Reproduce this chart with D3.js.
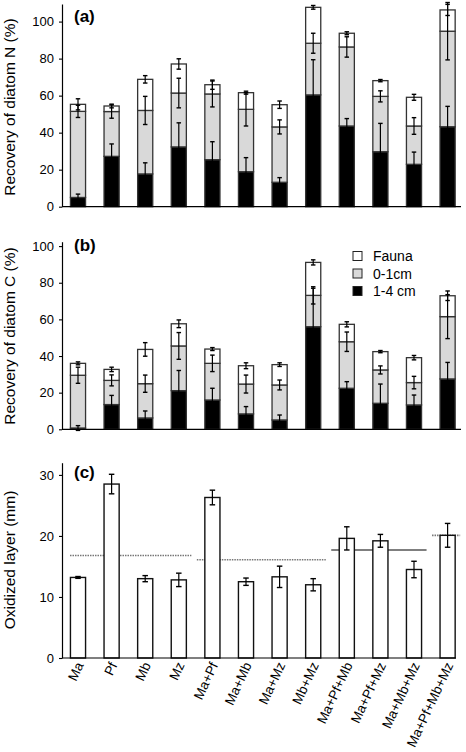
<!DOCTYPE html>
<html>
<head>
<meta charset="utf-8">
<script src="https://cdn.jsdelivr.net/npm/d3@7"></script>
<style>
  html, body { margin: 0; padding: 0; background: #fff; }
  svg { display: block; font-family: "Liberation Sans", Arial, Helvetica, sans-serif; }
</style>
</head>
<body>
<svg id="chart" width="466" height="752"></svg>
<script>
// ---------- DATA ----------
const categories = ["Ma","Pf","Mb","Mz","Ma+Pf","Ma+Mb","Ma+Mz","Mb+Mz","Ma+Pf+Mb","Ma+Pf+Mz","Ma+Mb+Mz","Ma+Pf+Mb+Mz"];
const seriesNames = ["1-4 cm","0-1cm","Fauna"];
const legendOrder = ["Fauna","0-1cm","1-4 cm"];

// Panel (a): recovery of diatom N (%), segment values (stacked bottom to top)
const nDeep   = [5.0, 27.2, 17.7, 32.3, 25.4, 18.9, 13.2, 60.4, 43.6, 29.7, 22.9, 43.2];
const nSurf   = [46.5, 24.2, 34.3, 29.1, 35.5, 33.7, 29.9, 27.9, 42.7, 29.9, 20.7, 51.6];
const nFauna  = [3.8, 3.0, 16.8, 15.7, 5.0, 9.0, 12.0, 19.4, 7.4, 8.5, 15.5, 11.5];
const nDeepErr  = [1.8, 6.7, 6.0, 13.0, 9.7, 7.6, 2.5, 19.0, 4.0, 15.3, 6.6, 11.0];
const nSurfErr  = [3.3, 3.6, 7.6, 8.0, 7.0, 9.0, 3.8, 5.4, 5.5, 3.0, 4.5, 15.5];
const nFaunaErr = [3.0, 1.0, 2.0, 2.8, 2.5, 0.8, 2.0, 1.0, 0.8, 0.6, 1.6, 3.0];

// Panel (b): recovery of diatom C (%)
const cDeep   = [0.7, 13.5, 6.2, 21.1, 16.0, 8.4, 5.1, 56.0, 22.4, 14.2, 13.3, 27.5];
const cSurf   = [28.8, 13.2, 18.7, 24.4, 20.0, 16.3, 19.1, 17.1, 25.4, 18.2, 12.2, 34.0];
const cFauna  = [6.5, 6.0, 18.7, 12.1, 7.8, 10.0, 11.1, 18.0, 9.5, 10.0, 13.6, 11.4];
const cDeepErr  = [1.3, 5.0, 3.8, 11.0, 6.4, 4.0, 2.7, 21.0, 3.6, 10.5, 5.4, 9.0];
const cSurfErr  = [4.4, 3.0, 4.7, 7.3, 4.5, 4.9, 2.7, 4.7, 5.3, 2.2, 3.4, 12.0];
const cFaunaErr = [0.8, 1.2, 3.7, 2.1, 0.8, 1.6, 1.0, 1.4, 1.4, 0.6, 1.2, 2.6];

// Panel (c): oxidized layer depth (mm)
const oxValues = [13.2, 28.5, 13.0, 12.8, 26.3, 12.5, 13.3, 12.0, 19.6, 19.2, 14.5, 20.1];
const oxErr    = [0.15, 1.6, 0.5, 1.1, 1.2, 0.6, 1.75, 1.0, 1.9, 1.05, 1.35, 1.95];

// Expected (reference) lines in panel (c): first/last category index, value, style
const refFrom  = [0, 4, 8, 11];
const refTo    = [3, 7, 10, 11];
const refValue = [16.8, 16.1, 17.7, 20.1];
const refStyle = ["dotted", "dotted", "solid", "dotted"];

const ticksA = [0, 20, 40, 60, 80, 100];
const ticksB = [0, 20, 40, 60, 80, 100];
const ticksC = [0, 10, 20, 30];

// ---------- STYLE ----------
const colors = { "1-4 cm": "#000000", "0-1cm": "#d9d9d9", "Fauna": "#ffffff" };
const svg = d3.select("#chart");
const axisX0 = 62;

const x = d3.scaleBand()
  .domain(categories)
  .range([61.2, 464.4])
  .paddingInner(0.55)
  .paddingOuter(0.275);

function drawYAxis(y, ticks, title, titleY) {
  const g = svg.append("g")
    .attr("transform", `translate(${axisX0},0)`)
    .call(d3.axisLeft(y).tickValues(ticks).tickSize(3).tickSizeOuter(0).tickPadding(5));
  g.select(".domain").attr("stroke", "#000").attr("stroke-width", 1.2);
  g.selectAll(".tick line").attr("stroke", "#000").attr("stroke-width", 1.1);
  g.selectAll(".tick text").attr("font-size", 13).attr("fill", "#000")
    .attr("font-family", "'Liberation Sans', Arial, sans-serif");
  svg.append("text")
    .attr("transform", `translate(15,${titleY}) rotate(-90)`)
    .attr("text-anchor", "middle")
    .attr("font-size", 15.5)
    .text(title);
}

function drawBaseline(y, x1) {
  svg.append("line")
    .attr("x1", axisX0).attr("x2", x1)
    .attr("y1", y(0)).attr("y2", y(0))
    .attr("stroke", "#000").attr("stroke-width", 1.2);
}

function errorBar(g, cx, y, center, err, capW) {
  const top = y(center + err), bot = y(center - err);
  g.append("line").attr("x1", cx).attr("x2", cx).attr("y1", top).attr("y2", bot)
    .attr("stroke", "#000").attr("stroke-width", 1.2);
  [top, bot].forEach(v => g.append("line")
    .attr("x1", cx - capW / 2).attr("x2", cx + capW / 2)
    .attr("y1", v).attr("y2", v)
    .attr("stroke", "#000").attr("stroke-width", 1.4));
}

function drawStacked(deep, surf, fauna, eDeep, eSurf, eFauna, y) {
  const rows = categories.map((c, i) => ({
    cat: c, "1-4 cm": deep[i], "0-1cm": surf[i], "Fauna": fauna[i]
  }));
  const errs = { "1-4 cm": eDeep, "0-1cm": eSurf, "Fauna": eFauna };
  const stacked = d3.stack().keys(seriesNames)(rows);
  const g = svg.append("g");
  stacked.forEach(layer => {
    g.selectAll(null).data(layer).enter().append("rect")
      .attr("x", d => x(d.data.cat))
      .attr("width", x.bandwidth())
      .attr("y", d => y(d[1]))
      .attr("height", d => y(d[0]) - y(d[1]))
      .attr("fill", colors[layer.key])
      .attr("stroke", "#333")
      .attr("stroke-width", 1.3);
  });
  const eg = svg.append("g");
  stacked.forEach(layer => {
    layer.forEach((d, i) => {
      errorBar(eg, x(d.data.cat) + x.bandwidth() / 2, y, d[1], errs[layer.key][i], 4.5);
    });
  });
}

function panelLabel(txt, xx, yy) {
  svg.append("text").attr("x", xx).attr("y", yy)
    .attr("font-size", 17).attr("font-weight", "bold").text(txt);
}

// ---------- PANEL (a) ----------
const yA = d3.scaleLinear().domain([0, 109.5]).range([206.7, 4]);
drawStacked(nDeep, nSurf, nFauna, nDeepErr, nSurfErr, nFaunaErr, yA);
drawBaseline(yA, 461);
drawYAxis(yA, ticksA, "Recovery of diatom N (%)", 107);
panelLabel("(a)", 74, 22);

// ---------- PANEL (b) ----------
const yB = d3.scaleLinear().domain([0, 102.4]).range([429.3, 241.7]);
drawStacked(cDeep, cSurf, cFauna, cDeepErr, cSurfErr, cFaunaErr, yB);
drawBaseline(yB, 461);
drawYAxis(yB, ticksB, "Recovery of diatom C (%)", 336);
panelLabel("(b)", 74, 251);

// legend
const lg = svg.append("g");
legendOrder.forEach((k, i) => {
  const cy = 256 + i * 17.5;
  lg.append("rect").attr("x", 353).attr("y", cy - 4.5).attr("width", 9).attr("height", 9)
    .attr("fill", colors[k]).attr("stroke", "#222").attr("stroke-width", 1);
  lg.append("text").attr("x", 373).attr("y", cy).attr("dy", "0.36em")
    .attr("font-size", 14).text(k);
});

// ---------- PANEL (c) ----------
const yC = d3.scaleLinear().domain([0, 32]).range([658, 462.7]);
const rg = svg.append("g");
refValue.forEach((v, i) => {
  const x1 = Math.max(axisX0 + 8, x(categories[refFrom[i]]) - 8);
  const x2 = x(categories[refTo[i]]) + x.bandwidth() + 5;
  const solid = refStyle[i] === "solid";
  rg.append("line")
    .attr("x1", x1).attr("x2", x2)
    .attr("y1", yC(v)).attr("y2", yC(v))
    .attr("stroke", solid ? "#555" : "#777")
    .attr("stroke-width", solid ? 1.5 : 1.6)
    .attr("stroke-dasharray", solid ? null : "1.5,1");
});
const cg = svg.append("g");
cg.selectAll("rect").data(oxValues).enter().append("rect")
  .attr("x", (d, i) => x(categories[i]))
  .attr("width", x.bandwidth())
  .attr("y", d => yC(d))
  .attr("height", d => yC(0) - yC(d))
  .attr("fill", "#fff").attr("stroke", "#111").attr("stroke-width", 1.4);
oxValues.forEach((v, i) => errorBar(cg, x(categories[i]) + x.bandwidth() / 2, yC, v, oxErr[i], 5.5));
drawBaseline(yC, 456);
drawYAxis(yC, ticksC, "Oxidized layer (mm)", 560);
panelLabel("(c)", 74, 478);

// x labels
const xl = svg.append("g");
categories.forEach(c => {
  const cx = x(c) + x.bandwidth() / 2;
  xl.append("text")
    .attr("transform", `translate(${cx + 6},${665}) rotate(-65)`)
    .attr("text-anchor", "end")
    .attr("font-size", 13.5)
    .text(c);
});
</script>
</body>
</html>
